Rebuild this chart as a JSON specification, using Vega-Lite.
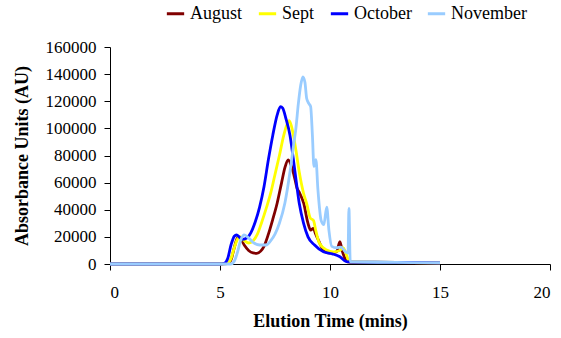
{
  "$schema": "https://vega.github.io/schema/vega-lite/v6.json",
  "width": 440,
  "height": 217,
  "autosize": {"type": "none"},
  "padding": {"left": 110, "top": 47, "right": 11, "bottom": 74},
  "view": {"stroke": null},
  "data": {
    "values": [
      {"m": "August", "t": 0, "v": 0},
      {"m": "August", "t": 5, "v": 0},
      {"m": "August", "t": 5.35, "v": 300},
      {"m": "August", "t": 5.5, "v": 3000},
      {"m": "August", "t": 5.65, "v": 12000},
      {"m": "August", "t": 5.8, "v": 19500},
      {"m": "August", "t": 5.9, "v": 19500},
      {"m": "August", "t": 6.1, "v": 14000},
      {"m": "August", "t": 6.3, "v": 10000},
      {"m": "August", "t": 6.5, "v": 8200},
      {"m": "August", "t": 6.67, "v": 7900},
      {"m": "August", "t": 6.85, "v": 9500},
      {"m": "August", "t": 7.0, "v": 13000},
      {"m": "August", "t": 7.2, "v": 22000},
      {"m": "August", "t": 7.4, "v": 33000},
      {"m": "August", "t": 7.6, "v": 45000},
      {"m": "August", "t": 7.8, "v": 60000},
      {"m": "August", "t": 7.95, "v": 71000},
      {"m": "August", "t": 8.1, "v": 76700},
      {"m": "August", "t": 8.25, "v": 72000},
      {"m": "August", "t": 8.4, "v": 63000},
      {"m": "August", "t": 8.5, "v": 56000},
      {"m": "August", "t": 8.6, "v": 53000},
      {"m": "August", "t": 8.8, "v": 45000},
      {"m": "August", "t": 9.0, "v": 30000},
      {"m": "August", "t": 9.12, "v": 25000},
      {"m": "August", "t": 9.24, "v": 26300},
      {"m": "August", "t": 9.35, "v": 22000},
      {"m": "August", "t": 9.47, "v": 17700},
      {"m": "August", "t": 9.7, "v": 10300},
      {"m": "August", "t": 10.0, "v": 8000},
      {"m": "August", "t": 10.3, "v": 9000},
      {"m": "August", "t": 10.45, "v": 16400},
      {"m": "August", "t": 10.55, "v": 10000},
      {"m": "August", "t": 10.68, "v": 4200},
      {"m": "August", "t": 10.8, "v": 1500},
      {"m": "August", "t": 11, "v": 1200},
      {"m": "August", "t": 13, "v": 1000},
      {"m": "August", "t": 15, "v": 700},

      {"m": "Sept", "t": 0, "v": 0},
      {"m": "Sept", "t": 5, "v": 0},
      {"m": "Sept", "t": 5.3, "v": 300},
      {"m": "Sept", "t": 5.5, "v": 4000},
      {"m": "Sept", "t": 5.65, "v": 12000},
      {"m": "Sept", "t": 5.8, "v": 18500},
      {"m": "Sept", "t": 5.9, "v": 20100},
      {"m": "Sept", "t": 6.05, "v": 18000},
      {"m": "Sept", "t": 6.3, "v": 15500},
      {"m": "Sept", "t": 6.5, "v": 17000},
      {"m": "Sept", "t": 6.7, "v": 22000},
      {"m": "Sept", "t": 6.9, "v": 31000},
      {"m": "Sept", "t": 7.1, "v": 41000},
      {"m": "Sept", "t": 7.3, "v": 52000},
      {"m": "Sept", "t": 7.5, "v": 66000},
      {"m": "Sept", "t": 7.7, "v": 80000},
      {"m": "Sept", "t": 7.9, "v": 95000},
      {"m": "Sept", "t": 8.05, "v": 103000},
      {"m": "Sept", "t": 8.15, "v": 105700},
      {"m": "Sept", "t": 8.3, "v": 98000},
      {"m": "Sept", "t": 8.45, "v": 84000},
      {"m": "Sept", "t": 8.6, "v": 68000},
      {"m": "Sept", "t": 8.8, "v": 52000},
      {"m": "Sept", "t": 8.95, "v": 44000},
      {"m": "Sept", "t": 9.1, "v": 34000},
      {"m": "Sept", "t": 9.25, "v": 32000},
      {"m": "Sept", "t": 9.35, "v": 25000},
      {"m": "Sept", "t": 9.5, "v": 16000},
      {"m": "Sept", "t": 9.85, "v": 10300},
      {"m": "Sept", "t": 10.15, "v": 9000},
      {"m": "Sept", "t": 10.45, "v": 10000},
      {"m": "Sept", "t": 10.6, "v": 12000},
      {"m": "Sept", "t": 10.7, "v": 9000},
      {"m": "Sept", "t": 10.85, "v": 2500},
      {"m": "Sept", "t": 11, "v": 1500},
      {"m": "Sept", "t": 13, "v": 1200},
      {"m": "Sept", "t": 15, "v": 800},

      {"m": "October", "t": 0, "v": 0},
      {"m": "October", "t": 5, "v": 0},
      {"m": "October", "t": 5.2, "v": 500},
      {"m": "October", "t": 5.35, "v": 4000},
      {"m": "October", "t": 5.5, "v": 14000},
      {"m": "October", "t": 5.65, "v": 20500},
      {"m": "October", "t": 5.75, "v": 21400},
      {"m": "October", "t": 5.9, "v": 19500},
      {"m": "October", "t": 6.0, "v": 18200},
      {"m": "October", "t": 6.2, "v": 19000},
      {"m": "October", "t": 6.4, "v": 23000},
      {"m": "October", "t": 6.6, "v": 31000},
      {"m": "October", "t": 6.8, "v": 42000},
      {"m": "October", "t": 7.0, "v": 57000},
      {"m": "October", "t": 7.2, "v": 77000},
      {"m": "October", "t": 7.4, "v": 95000},
      {"m": "October", "t": 7.6, "v": 110000},
      {"m": "October", "t": 7.75, "v": 116000},
      {"m": "October", "t": 7.85, "v": 115000},
      {"m": "October", "t": 8.0, "v": 107000},
      {"m": "October", "t": 8.18, "v": 95000},
      {"m": "October", "t": 8.4, "v": 69000},
      {"m": "October", "t": 8.6, "v": 45000},
      {"m": "October", "t": 8.8, "v": 30000},
      {"m": "October", "t": 9.0, "v": 20000},
      {"m": "October", "t": 9.3, "v": 14000},
      {"m": "October", "t": 9.7, "v": 9000},
      {"m": "October", "t": 10.1, "v": 7500},
      {"m": "October", "t": 10.45, "v": 5400},
      {"m": "October", "t": 10.75, "v": 1700},
      {"m": "October", "t": 11, "v": 1400},
      {"m": "October", "t": 13, "v": 1200},
      {"m": "October", "t": 15, "v": 800},

      {"m": "November", "t": 0, "v": 0},
      {"m": "November", "t": 5, "v": 0},
      {"m": "November", "t": 5.5, "v": 0},
      {"m": "November", "t": 5.65, "v": 2000},
      {"m": "November", "t": 5.8, "v": 9000},
      {"m": "November", "t": 5.95, "v": 18000},
      {"m": "November", "t": 6.1, "v": 21500},
      {"m": "November", "t": 6.25, "v": 20000},
      {"m": "November", "t": 6.5, "v": 16000},
      {"m": "November", "t": 6.8, "v": 14000},
      {"m": "November", "t": 7.1, "v": 14000},
      {"m": "November", "t": 7.3, "v": 17000},
      {"m": "November", "t": 7.5, "v": 22000},
      {"m": "November", "t": 7.7, "v": 30000},
      {"m": "November", "t": 7.95, "v": 45000},
      {"m": "November", "t": 8.2, "v": 70000},
      {"m": "November", "t": 8.33, "v": 86000},
      {"m": "November", "t": 8.45, "v": 100000},
      {"m": "November", "t": 8.56, "v": 118000},
      {"m": "November", "t": 8.67, "v": 132000},
      {"m": "November", "t": 8.77, "v": 138000},
      {"m": "November", "t": 8.86, "v": 134000},
      {"m": "November", "t": 8.94, "v": 122000},
      {"m": "November", "t": 9.05, "v": 118000},
      {"m": "November", "t": 9.12, "v": 116000},
      {"m": "November", "t": 9.2, "v": 95000},
      {"m": "November", "t": 9.27, "v": 72000},
      {"m": "November", "t": 9.36, "v": 77000},
      {"m": "November", "t": 9.45, "v": 55000},
      {"m": "November", "t": 9.6, "v": 32000},
      {"m": "November", "t": 9.72, "v": 29000},
      {"m": "November", "t": 9.85, "v": 42000},
      {"m": "November", "t": 9.95, "v": 25000},
      {"m": "November", "t": 10.08, "v": 13000},
      {"m": "November", "t": 10.3, "v": 12000},
      {"m": "November", "t": 10.5, "v": 12500},
      {"m": "November", "t": 10.7, "v": 9000},
      {"m": "November", "t": 10.82, "v": 8000},
      {"m": "November", "t": 10.86, "v": 41000},
      {"m": "November", "t": 10.92, "v": 2000},
      {"m": "November", "t": 11, "v": 1500},
      {"m": "November", "t": 13, "v": 1200},
      {"m": "November", "t": 15, "v": 800}
    ]
  },
  "mark": {"type": "line", "interpolate": "monotone", "strokeWidth": 2.8},
  "encoding": {
    "x": {
      "field": "t",
      "type": "quantitative",
      "title": "Elution Time (mins)",
      "scale": {"domain": [0, 20], "nice": false},
      "axis": {
        "values": [0, 5, 10, 15, 20],
        "grid": false,
        "domainColor": "black",
        "tickColor": "black",
        "tickSize": 6,
        "labelColor": "black",
        "labelFont": "serif",
        "labelFontSize": 17,
        "labelPadding": 14,
        "titleColor": "black",
        "titleFont": "Liberation Serif",
        "titleFontSize": 18,
        "titleFontWeight": "bold",
        "titlePadding": 12
      }
    },
    "y": {
      "field": "v",
      "type": "quantitative",
      "title": "Absorbance Units (AU)",
      "scale": {"domain": [0, 160000], "nice": false},
      "axis": {
        "values": [0, 20000, 40000, 60000, 80000, 100000, 120000, 140000, 160000],
        "format": "d",
        "grid": false,
        "domainColor": "black",
        "tickColor": "black",
        "tickSize": 6,
        "labelColor": "black",
        "labelFont": "serif",
        "labelFontSize": 17,
        "labelPadding": 8,
        "titleColor": "black",
        "titleFont": "Liberation Serif",
        "titleFontSize": 18,
        "titleFontWeight": "bold",
        "titlePadding": 14
      }
    },
    "color": {
      "field": "m",
      "type": "nominal",
      "sort": ["August", "Sept", "October", "November"],
      "scale": {
        "domain": ["August", "Sept", "October", "November"],
        "range": ["#800000", "#FFFF00", "#0000FF", "#99CCFF"]
      },
      "legend": {
        "title": null,
        "orient": "none",
        "direction": "horizontal",
        "legendX": 55,
        "legendY": -44,
        "labelFont": "serif",
        "labelFontSize": 18,
        "labelColor": "black",
        "symbolType": "stroke",
        "symbolStrokeWidth": 3,
        "symbolSize": 300,
        "labelOffset": 4,
        "columnPadding": 9
      }
    }
  }
}
